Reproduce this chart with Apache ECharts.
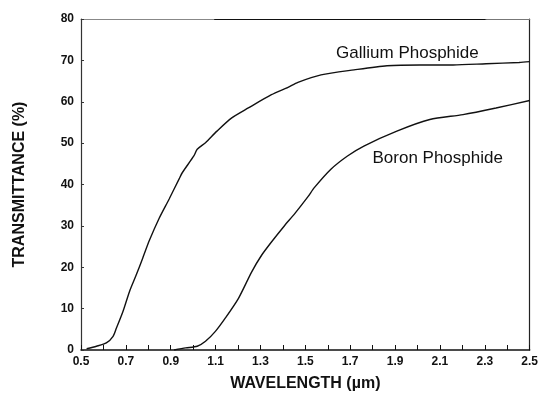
<!DOCTYPE html>
<html>
<head>
<meta charset="utf-8">
<script src="https://cdn.jsdelivr.net/npm/echarts@6/dist/echarts.min.js"></script>
<style>
html,body{margin:0;padding:0;background:#fff;}
#c{width:541px;height:397px;}
</style>
</head>
<body>
<div id="c"></div>
<script>
// ---- data ----
const galliumWavelength = [0.525,0.569,0.613,0.643,0.658,0.687,0.716,0.746,0.775,0.805,0.849,0.893,0.937,0.952,1.003,1.018,1.055,1.106,1.172,1.246,1.349,1.423,1.467,1.57,1.717,1.864,2.011,2.159,2.306,2.453,2.5];
const galliumTransmittance = [0.3,0.9,1.7,3.3,5.3,9.3,14.1,18.1,22.2,26.5,31.9,36.5,41.3,42.9,46.9,48.5,50.1,52.9,56.1,58.5,61.7,63.5,64.7,66.5,67.7,68.7,68.9,68.9,69.2,69.5,69.7];
const boronWavelength = [0.915,0.967,1.018,1.055,1.099,1.143,1.202,1.261,1.305,1.349,1.408,1.452,1.511,1.541,1.614,1.688,1.761,1.908,2.055,2.203,2.35,2.5];
const boronTransmittance = [0,0.5,0.9,2.1,4.5,7.7,12.5,18.9,22.9,26.1,30.1,32.9,37.0,39.3,43.7,46.9,49.3,52.9,55.7,56.9,58.5,60.3];
const xTickLabels = ['0.5','0.7','0.9','1.1','1.3','1.5','1.7','1.9','2.1','2.3','2.5'];
const yTickLabels = ['0','10','20','30','40','50','60','70','80'];
const seriesNames = ['Gallium Phosphide','Boron Phosphide'];
const labelPositions = [[1.955,71.6],[2.09,46.3]];
const xAxisName = 'WAVELENGTH (\u00b5m)';
const yAxisName = 'TRANSMITTANCE (%)';

const FONT = '"Liberation Sans", Arial, Helvetica, sans-serif';
function pairs(xs, ys){ return xs.map((x,i)=>[x, ys[i]]); }
const lineColor = '#111';

const chart = echarts.init(document.getElementById('c'), null, {renderer:'canvas'});
function mkSeries(name, xs, ys, pos){
  return {
    name: name, type:'line', data: pairs(xs, ys), showSymbol:false, symbol:'none', smooth:0.25,
    lineStyle:{color:lineColor, width:1.4}, animation:false, silent:true,
    markPoint:{
      symbol:'circle', symbolSize:0, silent:true, animation:false,
      label:{show:true, formatter:name, color:'#111', fontFamily:FONT, fontSize:17, position:'inside'},
      data:[{coord:pos, value:name}]
    }
  };
}
chart.setOption({
  animation:false,
  backgroundColor:'#fff',
  grid:{left:81, right:7, top:19, bottom:45, containLabel:false},
  xAxis:[{
    type:'value', min:0.5, max:2.5, interval:0.1, position:'bottom',
    name:xAxisName, nameLocation:'middle', nameGap:26,
    nameTextStyle:{fontFamily:FONT, fontWeight:'bold', fontSize:16, color:'#111'},
    axisLine:{show:true, lineStyle:{color:'#111', width:1.5}},
    axisTick:{show:true, inside:true, length:5, lineStyle:{color:'#111', width:1}},
    axisLabel:{fontFamily:FONT, fontWeight:'bold', fontSize:12, color:'#111', margin:6, showMinLabel:true, showMaxLabel:true,
      formatter:function(v){ const s = v.toFixed(1); return xTickLabels.indexOf(s) >= 0 ? s : ''; }},
    splitLine:{show:false}
  },{
    type:'value', min:0.5, max:2.5, position:'top',
    axisLine:{show:true, onZero:false, lineStyle:{width:1.2, color:{type:'linear', x:0, y:0, x2:1, y2:0, colorStops:[
      {offset:0, color:'#888'},{offset:0.299, color:'#888'},{offset:0.3, color:'#111'},{offset:0.895, color:'#111'},{offset:0.9, color:'#777'},{offset:1, color:'#777'}]}}},
    axisTick:{show:false}, axisLabel:{show:false}, splitLine:{show:false}
  }],
  yAxis:[{
    type:'value', min:0, max:80, interval:10, position:'left',
    name:yAxisName, nameLocation:'middle', nameGap:53, nameRotate:90,
    nameTextStyle:{fontFamily:FONT, fontWeight:'bold', fontSize:16, color:'#111'},
    axisLine:{show:true, lineStyle:{color:'#333', width:1.2}},
    axisTick:{show:true, inside:true, length:3, lineStyle:{color:'#333', width:1}},
    axisLabel:{fontFamily:FONT, fontWeight:'bold', fontSize:12, color:'#111', margin:7,
      formatter:function(v){ const s = String(Math.round(v)); return yTickLabels.indexOf(s) >= 0 ? s : ''; }},
    splitLine:{show:false}
  },{
    type:'value', min:0, max:80, position:'right',
    axisLine:{show:true, onZero:false, lineStyle:{color:'#222', width:1.2}},
    axisTick:{show:false}, axisLabel:{show:false}, splitLine:{show:false}
  }],
  series:[
    mkSeries(seriesNames[0], galliumWavelength, galliumTransmittance, labelPositions[0]),
    mkSeries(seriesNames[1], boronWavelength, boronTransmittance, labelPositions[1])
  ]
});
</script>
</body>
</html>
